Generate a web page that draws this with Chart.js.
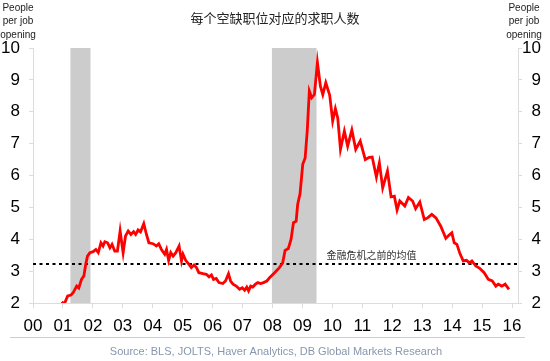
<!DOCTYPE html>
<html>
<head>
<meta charset="utf-8">
<script src="https://cdn.jsdelivr.net/npm/chart.js@4.4.1/dist/chart.umd.min.js"></script>
<style>html,body{margin:0;padding:0;background:#fff}</style>
</head>
<body>
<canvas id="jobChart" width="550" height="361"></canvas>
<script>
/* ========= DATA ========= */
const TITLE     = "每个空缺职位对应的求职人数";
const AVG_LABEL = "金融危机之前的均值";
const SOURCE    = "Source: BLS, JOLTS, Haver Analytics, DB Global Markets Research";
const UNIT      = ["People","per job","opening"];

const yearTicks  = [2000,2001,2002,2003,2004,2005,2006,2007,2008,2009,2010,2011,2012,2013,2014,2015,2016];
const valueTicks = [2,3,4,5,6,7,8,9,10];
const recessions = [[2001.25,2001.92],[2007.98,2009.47]];
const preCrisisAvg = 3.22;

const dates = [
  2000.96,2001.04,2001.16,2001.27,2001.34,2001.46,2001.53,2001.62,2001.70,2001.76,2001.82,2001.90,
  2002.01,2002.10,2002.18,2002.27,2002.34,2002.40,2002.49,2002.57,2002.64,2002.73,2002.82,2002.91,
  2003.01,2003.09,2003.18,2003.27,2003.36,2003.43,2003.51,2003.59,2003.70,2003.79,2003.87,
  2004.01,2004.12,2004.20,2004.29,2004.40,2004.46,2004.53,2004.60,2004.68,2004.77,2004.88,2004.96,
  2005.01,2005.10,2005.21,2005.29,2005.38,2005.46,2005.54,2005.68,2005.79,2005.88,2005.96,
  2006.03,2006.12,2006.21,2006.34,2006.43,2006.53,2006.60,2006.68,2006.79,2006.90,2006.99,
  2007.07,2007.14,2007.20,2007.27,2007.34,2007.43,2007.51,2007.60,2007.70,2007.81,2007.90,
  2008.07,2008.23,2008.34,2008.42,2008.53,2008.62,2008.70,2008.79,2008.84,2008.92,
  2009.01,2009.09,2009.16,2009.23,2009.31,2009.40,2009.50,2009.60,2009.68,2009.78,2009.91,
  2010.01,2010.10,2010.18,2010.27,2010.40,2010.51,2010.65,2010.78,2010.93,
  2011.10,2011.23,2011.33,2011.47,2011.57,2011.68,2011.84,2011.96,
  2012.07,2012.16,2012.25,2012.42,2012.54,2012.68,2012.78,2012.92,
  2013.07,2013.18,2013.32,2013.46,2013.62,2013.79,2013.90,2013.99,
  2014.07,2014.16,2014.26,2014.37,2014.48,2014.57,2014.66,2014.79,2014.92,
  2015.07,2015.21,2015.34,2015.46,2015.54,2015.66,2015.77,2015.90
];
const ratio = [
  2.04,1.96,2.22,2.25,2.32,2.53,2.47,2.74,2.85,3.21,3.47,3.58,
  3.61,3.68,3.58,3.89,3.79,3.92,3.89,3.73,3.84,3.63,3.63,4.26,
  3.58,4.10,4.26,4.15,4.24,4.15,4.29,4.23,4.49,4.15,3.89,
  3.86,3.79,3.86,3.68,3.53,3.68,3.34,3.58,3.47,3.58,3.79,3.32,
  3.53,3.34,3.21,3.11,3.19,3.11,2.95,2.92,2.90,2.82,2.88,
  2.74,2.77,2.64,2.61,2.69,2.92,2.69,2.59,2.53,2.43,2.48,
  2.40,2.50,2.38,2.53,2.50,2.59,2.64,2.61,2.64,2.69,2.79,
  2.95,3.11,3.26,3.65,3.71,4.00,4.52,4.57,5.09,5.43,
  6.35,6.55,7.39,8.65,8.44,8.54,9.55,8.80,8.54,8.91,8.52,
  7.71,8.10,7.80,6.82,7.39,6.92,7.43,6.82,7.08,
  6.50,6.57,6.58,5.95,6.40,5.61,6.14,5.33,
  5.35,4.92,5.20,5.04,5.31,5.20,4.96,5.17,
  4.62,4.67,4.78,4.67,4.41,4.03,4.13,4.20,
  3.89,3.84,3.55,3.32,3.34,3.26,3.32,3.16,3.09,
  2.95,2.74,2.69,2.53,2.59,2.53,2.59,2.43
];

/* ========= CONFIG ========= */
const X_MIN = 2000, X_MAX = 2016.2;
const SANS = "'Liberation Sans', Arial, sans-serif";
const CJK  = "'Noto Sans CJK SC', sans-serif";
const AXIS_GREY = "#dcdcdc";

/* ========= PLUGINS ========= */
const shading = {
  id:"shading",
  beforeDatasetsDraw(chart){
    const {ctx, chartArea:a, scales:{x}} = chart;
    ctx.save();
    ctx.fillStyle = "#cccccc";
    recessions.forEach(([s,e])=>{
      const x0 = x.getPixelForValue(s), x1 = x.getPixelForValue(e);
      ctx.fillRect(x0, a.top, x1-x0, a.bottom-a.top);
    });
    ctx.restore();
  }
};

const texts = {
  id:"texts",
  afterDraw(chart){
    const {ctx, scales:{x,y}} = chart;
    ctx.save();
    ctx.textAlign = "center";
    ctx.textBaseline = "middle";

    ctx.fillStyle = "#222";
    ctx.font = "13px " + CJK;
    ctx.fillText(TITLE, 275, 18);

    ctx.font = "10px " + SANS;
    UNIT.forEach((t,i)=>{
      ctx.fillText(t, 18, 8 + i*13.5);
      ctx.fillText(t, 524, 8 + i*13.5);
    });

    ctx.textAlign = "left";
    ctx.font = "10px " + CJK;
    ctx.fillStyle = "#333";
    ctx.fillText(AVG_LABEL, x.getPixelForValue(2009.8), y.getPixelForValue(preCrisisAvg) - 9);

    ctx.strokeStyle = "#c5cdd8";
    ctx.lineWidth = 1;
    ctx.beginPath();
    ctx.moveTo(10, 337.5);
    ctx.lineTo(525, 337.5);
    ctx.stroke();

    ctx.textAlign = "center";
    ctx.fillStyle = "#8797ae";
    ctx.font = "11px " + SANS;
    ctx.fillText(SOURCE, 276, 352);
    ctx.restore();
  }
};

/* ========= CHART ========= */
const yAxis = (pos, w) => ({
  position:pos, min:2, max:10,
  afterBuildTicks: s => { s.ticks = valueTicks.map(v=>({value:v})); },
  afterFit: s => { s.width = w; },
  grid:{drawOnChartArea:false, tickLength:4, color:AXIS_GREY},
  border:{color:AXIS_GREY},
  ticks:{
    font:{family:SANS, size:17}, color:"#000", padding:9,
    crossAlign: pos === "right" ? "far" : "near"
  }
});

new Chart(jobChart,{
  type:"line",
  data:{
    datasets:[
      {
        data: dates.map((d,i)=>({x:d, y:ratio[i]})),
        borderColor:"#ff0000", borderWidth:2.8,
        pointRadius:0, tension:0, order:1
      },
      {
        data:[{x:X_MIN, y:preCrisisAvg},{x:X_MAX, y:preCrisisAvg}],
        borderColor:"#000", borderWidth:2, borderDash:[3,3.5],
        pointRadius:0, order:2
      }
    ]
  },
  options:{
    responsive:false, animation:false, devicePixelRatio:1,
    layout:{padding:{top:48, right:9, bottom:28, left:0}},
    plugins:{legend:{display:false}, tooltip:{enabled:false}},
    scales:{
      x:{
        type:"linear", min:X_MIN, max:X_MAX,
        afterBuildTicks: s => { s.ticks = yearTicks.map(v=>({value:v})); },
        afterFit: s => { s.height = 30; },
        grid:{drawOnChartArea:false, tickLength:5, color:AXIS_GREY},
        border:{color:AXIS_GREY},
        ticks:{
          font:{family:SANS, size:17}, color:"#000", padding:8,
          maxRotation:0, autoSkip:false,
          callback: v => String(v % 100).padStart(2,"0")
        }
      },
      y: yAxis("left", 33),
      y2: yAxis("right", 23)
    }
  },
  plugins:[shading, texts]
});
</script>
</body>
</html>
